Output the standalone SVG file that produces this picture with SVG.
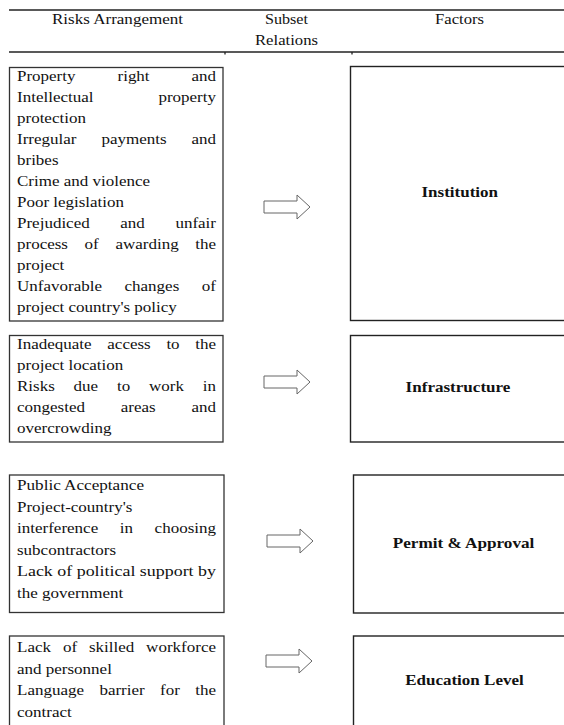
<svg xmlns="http://www.w3.org/2000/svg" width="564" height="725" viewBox="0 0 564 725">
<defs>
<style>
.t{font-family:"Liberation Serif","Times New Roman",serif;font-size:15px;fill:#111}
.b{font-weight:bold}
.box{fill:none;stroke:#333;stroke-width:1.3}
.fbox{fill:none;stroke:#222;stroke-width:1.4}
.rule{stroke:#222;stroke-width:1.3}
.arr{fill:#fff;stroke:#666;stroke-width:1}
</style>
<path id="arrow" class="arr" d="M0,-6 H33 V-12 L46,0 L33,12 V6 H0 Z"/>
</defs>
<rect width="564" height="725" fill="#fff"/>

<g id="header">
<line class="rule" x1="9" y1="10" x2="564" y2="10"/>
<line class="rule" x1="9" y1="52" x2="564" y2="52"/>
<line class="rule" x1="225" y1="52" x2="225" y2="54.5" stroke-width="0.8"/>
<line class="rule" x1="352" y1="52" x2="352" y2="54.5" stroke-width="0.8"/>
<text class="t" x="52" y="24" textLength="131" lengthAdjust="spacingAndGlyphs">Risks Arrangement</text>
<text class="t" x="265" y="24" textLength="43" lengthAdjust="spacingAndGlyphs">Subset</text>
<text class="t" x="255" y="45" textLength="63" lengthAdjust="spacingAndGlyphs">Relations</text>
<text class="t" x="435" y="24" textLength="49" lengthAdjust="spacingAndGlyphs">Factors</text>
</g>

<g id="risks-institution">
<rect class="box" x="9.5" y="67.5" width="213.5" height="253.5"/>
<text class="t" y="81"><tspan x="17" textLength="58.5" lengthAdjust="spacingAndGlyphs">Property</tspan> <tspan x="117.5" textLength="32.1" lengthAdjust="spacingAndGlyphs">right</tspan> <tspan x="191.5" textLength="24.5" lengthAdjust="spacingAndGlyphs">and</tspan></text>
<text class="t" y="102"><tspan x="17" textLength="76.5" lengthAdjust="spacingAndGlyphs">Intellectual</tspan> <tspan x="158.4" textLength="57.6" lengthAdjust="spacingAndGlyphs">property</tspan></text>
<text class="t" x="17" y="123" textLength="68.9" lengthAdjust="spacingAndGlyphs">protection</text>
<text class="t" y="144"><tspan x="17" textLength="59.5" lengthAdjust="spacingAndGlyphs">Irregular</tspan> <tspan x="101.4" textLength="65.2" lengthAdjust="spacingAndGlyphs">payments</tspan> <tspan x="191.5" textLength="24.5" lengthAdjust="spacingAndGlyphs">and</tspan></text>
<text class="t" x="17" y="165" textLength="41.5" lengthAdjust="spacingAndGlyphs">bribes</text>
<text class="t" x="17" y="186" textLength="133" lengthAdjust="spacingAndGlyphs">Crime and violence</text>
<text class="t" x="17" y="207" textLength="107" lengthAdjust="spacingAndGlyphs">Poor legislation</text>
<text class="t" y="228"><tspan x="17" textLength="72.7" lengthAdjust="spacingAndGlyphs">Prejudiced</tspan> <tspan x="120.3" textLength="24.5" lengthAdjust="spacingAndGlyphs">and</tspan> <tspan x="175.4" textLength="40.6" lengthAdjust="spacingAndGlyphs">unfair</tspan></text>
<text class="t" y="249"><tspan x="17" textLength="51" lengthAdjust="spacingAndGlyphs">process</tspan> <tspan x="84.6" textLength="14.2" lengthAdjust="spacingAndGlyphs">of</tspan> <tspan x="115.4" textLength="63.3" lengthAdjust="spacingAndGlyphs">awarding</tspan> <tspan x="195.2" textLength="20.8" lengthAdjust="spacingAndGlyphs">the</tspan></text>
<text class="t" x="17" y="270" textLength="47.2" lengthAdjust="spacingAndGlyphs">project</text>
<text class="t" y="291"><tspan x="17" textLength="85" lengthAdjust="spacingAndGlyphs">Unfavorable</tspan> <tspan x="124.5" textLength="54.8" lengthAdjust="spacingAndGlyphs">changes</tspan> <tspan x="201.8" textLength="14.2" lengthAdjust="spacingAndGlyphs">of</tspan></text>
<text class="t" x="17" y="312" textLength="159.8" lengthAdjust="spacingAndGlyphs">project country's policy</text>
</g>

<g id="risks-infrastructure">
<rect class="box" x="9.5" y="335.5" width="213.5" height="106.5"/>
<text class="t" y="349"><tspan x="17" textLength="74.6" lengthAdjust="spacingAndGlyphs">Inadequate</tspan> <tspan x="107.3" textLength="43.4" lengthAdjust="spacingAndGlyphs">access</tspan> <tspan x="166.4" textLength="13.2" lengthAdjust="spacingAndGlyphs">to</tspan> <tspan x="195.3" textLength="20.8" lengthAdjust="spacingAndGlyphs">the</tspan></text>
<text class="t" x="17" y="370" textLength="106.2" lengthAdjust="spacingAndGlyphs">project location</text>
<text class="t" y="391"><tspan x="17" textLength="37.8" lengthAdjust="spacingAndGlyphs">Risks</tspan> <tspan x="73.6" textLength="24.5" lengthAdjust="spacingAndGlyphs">due</tspan> <tspan x="117" textLength="13.2" lengthAdjust="spacingAndGlyphs">to</tspan> <tspan x="149" textLength="34.9" lengthAdjust="spacingAndGlyphs">work</tspan> <tspan x="202.8" textLength="13.2" lengthAdjust="spacingAndGlyphs">in</tspan></text>
<text class="t" y="412"><tspan x="17" textLength="68" lengthAdjust="spacingAndGlyphs">congested</tspan> <tspan x="120.8" textLength="34.9" lengthAdjust="spacingAndGlyphs">areas</tspan> <tspan x="191.5" textLength="24.5" lengthAdjust="spacingAndGlyphs">and</tspan></text>
<text class="t" x="17" y="433" textLength="94.4" lengthAdjust="spacingAndGlyphs">overcrowding</text>
</g>

<g id="risks-permit">
<rect class="box" x="9.5" y="475" width="214.5" height="137.5"/>
<text class="t" x="17" y="490" textLength="127" lengthAdjust="spacingAndGlyphs">Public Acceptance</text>
<text class="t" x="17" y="511.5" textLength="115.4" lengthAdjust="spacingAndGlyphs">Project-country's</text>
<text class="t" y="533"><tspan x="17" textLength="81.2" lengthAdjust="spacingAndGlyphs">interference</tspan> <tspan x="119.8" textLength="13.2" lengthAdjust="spacingAndGlyphs">in</tspan> <tspan x="154.6" textLength="61.4" lengthAdjust="spacingAndGlyphs">choosing</tspan></text>
<text class="t" x="17" y="554.5" textLength="99.1" lengthAdjust="spacingAndGlyphs">subcontractors</text>
<text class="t" x="17" y="576" textLength="199" lengthAdjust="spacingAndGlyphs">Lack of political support by</text>
<text class="t" x="17" y="597.5" textLength="106.2" lengthAdjust="spacingAndGlyphs">the government</text>
</g>

<g id="risks-education">
<rect class="box" x="9.5" y="636" width="214.5" height="100"/>
<text class="t" y="652"><tspan x="17" textLength="34" lengthAdjust="spacingAndGlyphs">Lack</tspan> <tspan x="62.9" textLength="14.2" lengthAdjust="spacingAndGlyphs">of</tspan> <tspan x="88.9" textLength="45.3" lengthAdjust="spacingAndGlyphs">skilled</tspan> <tspan x="146.1" textLength="69.9" lengthAdjust="spacingAndGlyphs">workforce</tspan></text>
<text class="t" x="17" y="673.5" textLength="94.9" lengthAdjust="spacingAndGlyphs">and personnel</text>
<text class="t" y="695"><tspan x="17" textLength="67" lengthAdjust="spacingAndGlyphs">Language</tspan> <tspan x="99.4" textLength="45.3" lengthAdjust="spacingAndGlyphs">barrier</tspan> <tspan x="160.1" textLength="19.8" lengthAdjust="spacingAndGlyphs">for</tspan> <tspan x="195.3" textLength="20.8" lengthAdjust="spacingAndGlyphs">the</tspan></text>
<text class="t" x="17" y="716.5" textLength="54.8" lengthAdjust="spacingAndGlyphs">contract</text>
</g>

<g id="factor-institution">
<rect class="fbox" x="350.5" y="66.5" width="230" height="254"/>
<text class="t b" x="421.5" y="197" textLength="76.5" lengthAdjust="spacingAndGlyphs">Institution</text>
</g>
<g id="factor-infrastructure">
<rect class="fbox" x="350.5" y="335.5" width="230" height="106.5"/>
<text class="t b" x="405.6" y="392" textLength="104.8" lengthAdjust="spacingAndGlyphs">Infrastructure</text>
</g>
<g id="factor-permit">
<rect class="fbox" x="353.5" y="475" width="230" height="138"/>
<text class="t b" x="392.7" y="548" textLength="141.6" lengthAdjust="spacingAndGlyphs">Permit &amp; Approval</text>
</g>
<g id="factor-education">
<rect class="fbox" x="353.5" y="636" width="230" height="100"/>
<text class="t b" x="405.2" y="685" textLength="118.5" lengthAdjust="spacingAndGlyphs">Education Level</text>
</g>

<g id="connectors">
<use href="#arrow" x="264" y="207"/>
<use href="#arrow" x="264" y="382"/>
<use href="#arrow" x="267" y="541"/>
<use href="#arrow" x="266" y="661"/>
</g>
</svg>
